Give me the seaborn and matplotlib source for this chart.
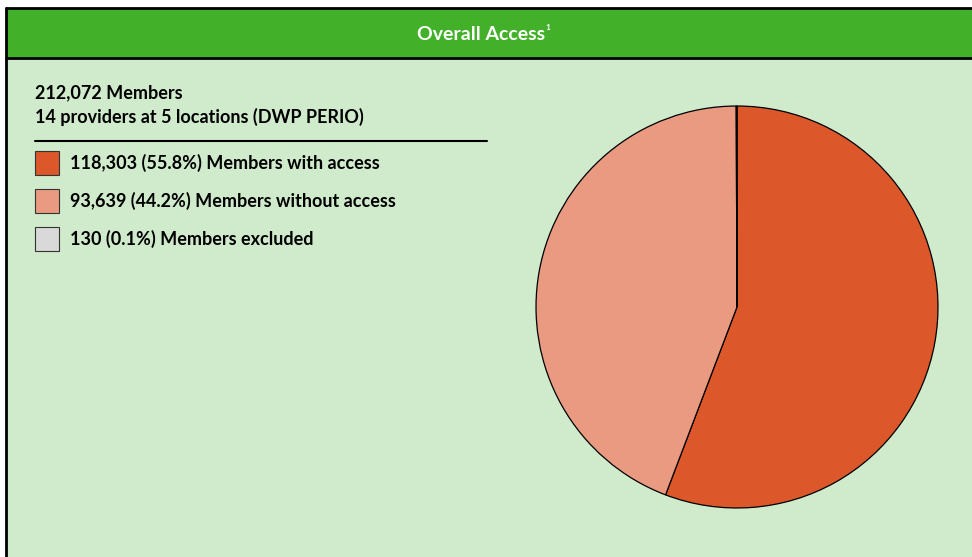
import matplotlib
matplotlib.use("Agg")
import matplotlib.pyplot as plt
import seaborn as sns
from matplotlib.patches import Rectangle

sns.set_theme(style="white")
plt.rcParams['font.family'] = ['Lato', 'DejaVu Sans']

title = "Overall Access"
title_note = "1"
total_line = "212,072 Members"
provider_line = "14 providers at 5 locations (DWP PERIO)"
labels = ["118,303 (55.8%) Members with access",
          "93,639 (44.2%) Members without access",
          "130 (0.1%) Members excluded"]
values = [118303, 93639, 130]
colors = ["#DC572A", "#E99A81", "#D9D9D9"]

W, H = 972, 557
fig = plt.figure(figsize=(W/100, H/100), dpi=100)
fig.patch.set_facecolor("white")

def fx(x): return x / W
def fy(y): return 1 - y / H

# background panel
fig.add_artist(Rectangle((fx(6), 0), 1 - fx(6), fy(58), transform=fig.transFigure,
                         facecolor="#D0EBCB", edgecolor="none", zorder=0))
# header
fig.add_artist(Rectangle((fx(6), fy(58)), 1 - fx(6), fy(8) - fy(58), transform=fig.transFigure,
                         facecolor="#43B02A", edgecolor="none", zorder=1))
# borders
fig.add_artist(plt.Line2D([fx(6), 1], [fy(8), fy(8)], color="black", lw=2, transform=fig.transFigure, zorder=2))
fig.add_artist(plt.Line2D([fx(6), 1], [fy(58), fy(58)], color="black", lw=2, transform=fig.transFigure, zorder=2))
fig.add_artist(plt.Line2D([fx(6), fx(6)], [0, fy(8)], color="black", lw=2, transform=fig.transFigure, zorder=2))

t = fig.text(fx(481), fy(34), title, color="white", fontsize=14,
             fontweight="bold", ha="center", va="center", zorder=3)
fig.canvas.draw()
bb = t.get_window_extent(renderer=fig.canvas.get_renderer())
fig.text(bb.x1 / W + fx(0.5), fy(28), title_note, color="white", fontsize=6,
         fontweight="bold", ha="left", va="center", zorder=3)

fs = 13
fig.text(fx(35), fy(93), total_line, fontsize=fs, fontweight="bold", color="black", va="center")
fig.text(fx(35), fy(117), provider_line, fontsize=fs, fontweight="bold", color="black", va="center")
fig.add_artist(plt.Line2D([fx(35), fx(487)], [fy(141), fy(141)], color="black", lw=1.5, transform=fig.transFigure))

row_y = [163, 201, 239]
for lab, c, y in zip(labels, colors, row_y):
    fig.add_artist(Rectangle((fx(35), fy(y + 12)), fx(24), fy(y - 12) - fy(y + 12),
                             transform=fig.transFigure, facecolor=c, edgecolor="#333333", lw=0.8))
    fig.text(fx(70), fy(y), lab, fontsize=fs, fontweight="bold", color="black", va="center")

ax = fig.add_axes([fx(534), fy(510), fx(406), fy(104) - fy(510)])
ax.pie(values, colors=colors, startangle=90, counterclock=False,
       wedgeprops=dict(edgecolor="black", linewidth=0.9))
ax.set_xlim(-1.01, 1.01)
ax.set_ylim(-1.01, 1.01)
ax.set_aspect("equal")
ax.axis("off")

fig.savefig("out.png", dpi=100, facecolor=fig.get_facecolor())
